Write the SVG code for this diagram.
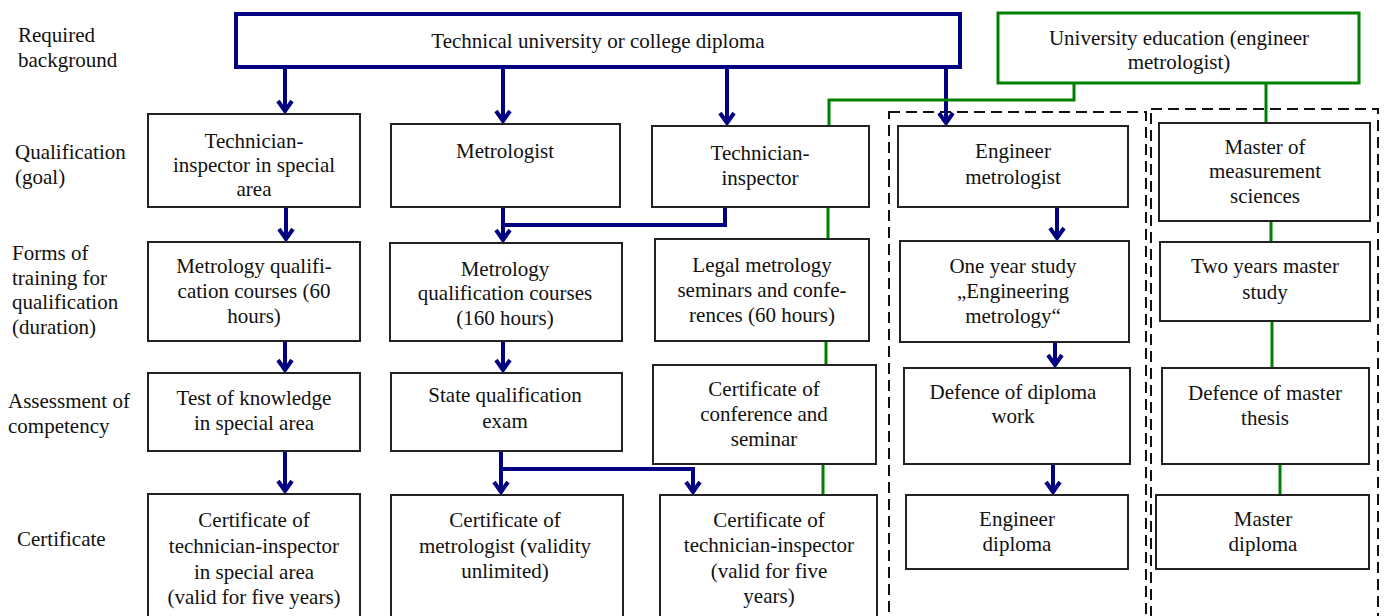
<svg xmlns="http://www.w3.org/2000/svg" width="1384" height="616" viewBox="0 0 1384 616">
  <style>
    text { font-family: "Liberation Serif", "Times New Roman", serif; font-size: 21px; fill: #111; }
    .c { text-anchor: middle; }
    .box { fill: #fff; stroke: #222; stroke-width: 2; }
    .dash { fill: none; stroke: #111; stroke-width: 2; stroke-dasharray: 11 6; }
    .blue { fill: none; stroke: #000080; stroke-width: 4; }
    .green { fill: none; stroke: #008000; stroke-width: 3; }
    .arrow { marker-end: url(#chev); }
  </style>
  <defs>
    <marker id="chev" markerUnits="userSpaceOnUse" viewBox="-14 -10 18 20" markerWidth="18" markerHeight="20" refX="0" refY="0" orient="auto" overflow="visible">
      <path d="M-10,-7 L0,0 L-10,7" fill="none" stroke="#000080" stroke-width="4"/>
    </marker>
  </defs>
  <rect width="1384" height="616" fill="#fff"/>

  <!-- row headings -->
  <g id="row-labels">
    <text x="18" y="42">Required</text>
    <text x="18" y="67">background</text>
    <text x="15" y="159">Qualification</text>
    <text x="15" y="184">(goal)</text>
    <text x="12" y="260">Forms of</text>
    <text x="12" y="285">training for</text>
    <text x="12" y="309">qualification</text>
    <text x="12" y="334">(duration)</text>
    <text x="8" y="408">Assessment of</text>
    <text x="8" y="433">competency</text>
    <text x="17" y="546">Certificate</text>
  </g>

  <!-- university tracks framed by dashed borders -->
  <g id="tracks">
    <rect class="dash" x="889" y="112" width="257" height="520"/>
    <rect class="dash" x="1151" y="109" width="227" height="520"/>
  </g>

  <g id="connectors">
    <!-- blue: technical diploma paths -->
    <path class="blue arrow" d="M285,67 V111"/>
    <path class="blue arrow" d="M503,67 V121"/>
    <path class="blue arrow" d="M727,67 V123"/>
    <path class="blue arrow" d="M946,67 V123"/>
    <path class="blue arrow" d="M286,207 V239"/>
    <path class="blue" d="M725,207 V225 H503"/>
    <path class="blue arrow" d="M503,207 V240"/>
    <path class="blue arrow" d="M1057,207 V238"/>
    <path class="blue arrow" d="M285,341 V370"/>
    <path class="blue arrow" d="M503,341 V370"/>
    <path class="blue arrow" d="M1055,342 V365"/>
    <path class="blue arrow" d="M285,451 V491"/>
    <path class="blue arrow" d="M501,451 V492"/>
    <path class="blue arrow" d="M501,469 H693 V492"/>
    <path class="blue arrow" d="M1053,464 V492"/>
    <!-- green: university education paths -->
    <path class="green" d="M1074,83 V100 H829 V126"/>
    <path class="green" d="M828,207 V239"/>
    <path class="green" d="M826,341 V365"/>
    <path class="green" d="M823,464 V495"/>
    <path class="green" d="M1266,83 V123"/>
    <path class="green" d="M1271,221 V242"/>
    <path class="green" d="M1272,321 V368"/>
    <path class="green" d="M1280,464 V495"/>
  </g>

  <g id="technical-diploma">
    <rect x="236" y="14" width="724" height="53" fill="#fff" stroke="#000080" stroke-width="4"/>
    <text class="c" x="598" y="48">Technical university or college diploma</text>
  </g>
  <g id="university-education">
    <rect x="998" y="13" width="361" height="70" fill="#fff" stroke="#008000" stroke-width="3"/>
    <text class="c" x="1179" y="45">University education (engineer</text>
    <text class="c" x="1179" y="69">metrologist)</text>
  </g>

  <!-- qualification row -->
  <g id="q-tech-special">
    <rect class="box" x="148" y="114" width="212" height="93"/>
    <text class="c" x="254" y="148">Technician-</text>
    <text class="c" x="254" y="172">inspector in special</text>
    <text class="c" x="254" y="196">area</text>
  </g>
  <g id="q-metrologist">
    <rect class="box" x="391" y="124" width="229" height="83"/>
    <text class="c" x="505" y="158">Metrologist</text>
  </g>
  <g id="q-tech-inspector">
    <rect class="box" x="652" y="126" width="217" height="81"/>
    <text class="c" x="760" y="160">Technician-</text>
    <text class="c" x="760" y="185">inspector</text>
  </g>
  <g id="q-engineer">
    <rect class="box" x="898" y="126" width="230" height="81"/>
    <text class="c" x="1013" y="158">Engineer</text>
    <text class="c" x="1013" y="184">metrologist</text>
  </g>
  <g id="q-master">
    <rect class="box" x="1159" y="123" width="211" height="98"/>
    <text class="c" x="1265" y="154">Master of</text>
    <text class="c" x="1265" y="178">measurement</text>
    <text class="c" x="1265" y="203">sciences</text>
  </g>

  <!-- training row -->
  <g id="t-courses-60">
    <rect class="box" x="148" y="242" width="212" height="99"/>
    <text class="c" x="254" y="273">Metrology qualifi-</text>
    <text class="c" x="254" y="298">cation courses (60</text>
    <text class="c" x="254" y="323">hours)</text>
  </g>
  <g id="t-courses-160">
    <rect class="box" x="390" y="243" width="232" height="98"/>
    <text class="c" x="505" y="276">Metrology</text>
    <text class="c" x="505" y="300">qualification courses</text>
    <text class="c" x="505" y="325">(160 hours)</text>
  </g>
  <g id="t-seminars">
    <rect class="box" x="655" y="239" width="214" height="102"/>
    <text class="c" x="762" y="272">Legal metrology</text>
    <text class="c" x="762" y="297">seminars and confe-</text>
    <text class="c" x="762" y="322">rences (60 hours)</text>
  </g>
  <g id="t-one-year">
    <rect class="box" x="900" y="241" width="229" height="101"/>
    <text class="c" x="1013" y="273">One year study</text>
    <text class="c" x="1013" y="298">„Engineering</text>
    <text class="c" x="1013" y="323">metrology“</text>
  </g>
  <g id="t-two-years">
    <rect class="box" x="1160" y="242" width="210" height="79"/>
    <text class="c" x="1265" y="273">Two years master</text>
    <text class="c" x="1265" y="299">study</text>
  </g>

  <!-- assessment row -->
  <g id="a-test">
    <rect class="box" x="148" y="373" width="212" height="78"/>
    <text class="c" x="254" y="405">Test of knowledge</text>
    <text class="c" x="254" y="430">in special area</text>
  </g>
  <g id="a-exam">
    <rect class="box" x="391" y="373" width="231" height="78"/>
    <text class="c" x="505" y="402">State qualification</text>
    <text class="c" x="505" y="428">exam</text>
  </g>
  <g id="a-conference">
    <rect class="box" x="653" y="365" width="223" height="99"/>
    <text class="c" x="764" y="396">Certificate of</text>
    <text class="c" x="764" y="421">conference and</text>
    <text class="c" x="764" y="446">seminar</text>
  </g>
  <g id="a-diploma-work">
    <rect class="box" x="904" y="368" width="226" height="96"/>
    <text class="c" x="1013" y="399">Defence of diploma</text>
    <text class="c" x="1013" y="423">work</text>
  </g>
  <g id="a-master-thesis">
    <rect class="box" x="1162" y="368" width="207" height="96"/>
    <text class="c" x="1265" y="400">Defence of master</text>
    <text class="c" x="1265" y="425">thesis</text>
  </g>

  <!-- certificate row -->
  <g id="c-tech-special">
    <rect class="box" x="148" y="494" width="212" height="130"/>
    <text class="c" x="254" y="527">Certificate of</text>
    <text class="c" x="254" y="553">technician-inspector</text>
    <text class="c" x="254" y="579">in special area</text>
    <text class="c" x="254" y="604">(valid for five years)</text>
  </g>
  <g id="c-metrologist">
    <rect class="box" x="391" y="495" width="232" height="130"/>
    <text class="c" x="505" y="527">Certificate of</text>
    <text class="c" x="505" y="553">metrologist (validity</text>
    <text class="c" x="505" y="578">unlimited)</text>
  </g>
  <g id="c-tech-inspector">
    <rect class="box" x="660" y="495" width="217" height="130"/>
    <text class="c" x="769" y="527">Certificate of</text>
    <text class="c" x="769" y="552">technician-inspector</text>
    <text class="c" x="769" y="578">(valid for five</text>
    <text class="c" x="769" y="603">years)</text>
  </g>
  <g id="c-engineer">
    <rect class="box" x="906" y="495" width="222" height="74"/>
    <text class="c" x="1017" y="526">Engineer</text>
    <text class="c" x="1017" y="551">diploma</text>
  </g>
  <g id="c-master">
    <rect class="box" x="1156" y="495" width="213" height="74"/>
    <text class="c" x="1263" y="526">Master</text>
    <text class="c" x="1263" y="551">diploma</text>
  </g>
</svg>
